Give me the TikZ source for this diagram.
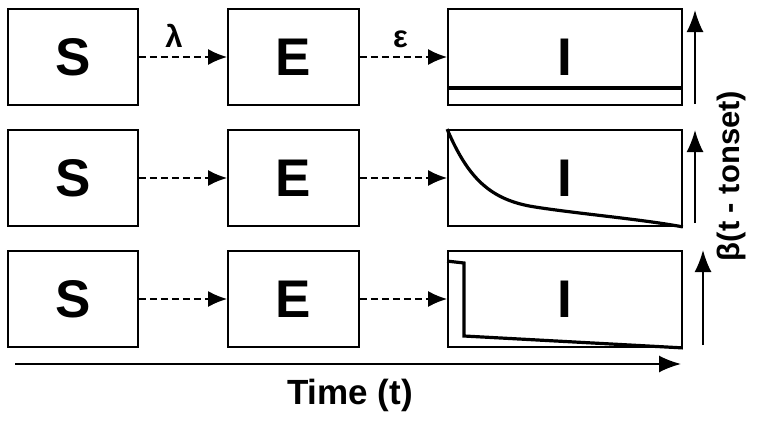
\documentclass[tikz,border=0pt]{standalone}
\usepackage{fontspec}
\setmainfont{Liberation Sans}
\usepackage{tikz}
\usetikzlibrary{positioning,arrows.meta}

\begin{document}
\begin{tikzpicture}[x=1pt,y=-1pt,
        comp/.style={draw=black,line width=1.8pt,fill=white,inner sep=0pt,
            minimum height=96pt,font=\fontsize{53}{53}\selectfont\bfseries},
        scomp/.style={comp,minimum width=130pt},
        ecomp/.style={comp,minimum width=131pt},
        icomp/.style={comp,minimum width=234pt},
        flow/.style={dash pattern=on 7pt off 4pt,line width=1.8pt,-{Latex[length=19pt,width=16pt]}},
        rate/.style={font=\fontsize{31}{31}\selectfont\bfseries},
        axis/.style={line width=1.8pt,-{Latex[length=22pt,width=17pt]}},
        beta/.style={line width=3.2pt,line join=miter}
    ]
    \useasboundingbox (0,0) rectangle (759,423);

    %--- compartments ---
    \node[scomp] (s1) at (73,57) {S};
    \node[ecomp] (e1) at (293.5,57) {E};
    \node[icomp] (i1) at (565,57) {I};

    \node[scomp] (s2) at (73,178) {S};
    \node[ecomp] (e2) at (293.5,178) {E};
    \node[icomp] (i2) at (565,178) {I};

    \node[scomp] (s3) at (73,299) {S};
    \node[ecomp] (e3) at (293.5,299) {E};
    \node[icomp] (i3) at (565,299) {I};

    %--- flows ---
    \draw[flow] (s1) -- node[rate,above=5pt,xshift=-9pt] {λ} (e1);
    \draw[flow] (e1) -- node[rate,above=5pt,xshift=-3pt] {ε} (i1);
    \draw[flow] (s2) -- (e2);
    \draw[flow] (e2) -- (i2);
    \draw[flow] (s3) -- (e3);
    \draw[flow] (e3) -- (i3);

    %--- infectiousness profiles ---
    \draw[beta] ([yshift=-31pt]i1.west) -- ([yshift=-31pt]i1.east);
    \draw[beta] (i2.north west) .. controls (468,178) and (490,200) .. (535,207)
        .. controls (580,214) and (640,219) .. (i2.south east);
    \draw[beta] ([yshift=-11pt]i3.north west) -- (464,263) -- (464,336) -- (i3.south east);

    %--- axes ---
    \coordinate (b1) at (695,104);
    \coordinate (b1t) at (695,10);
    \coordinate (b2) at (695,223);
    \coordinate (b2t) at (695,130);
    \coordinate (b3) at (703,345);
    \coordinate (b3t) at (703,250);
    \draw[axis] (b1) -- (b1t);
    \draw[axis] (b2) -- (b2t);
    \draw[axis] (b3) -- (b3t);
    \node[font=\fontsize{31}{31}\selectfont\bfseries,rotate=90] (blabel) at (731,176) {β(t - tonset)};

    \coordinate (t0) at (15,364);
    \coordinate (t1) at (681,364);
    \draw[axis] (t0) -- (t1);
    \node[font=\fontsize{35}{35}\selectfont\bfseries] (tlabel) at (350,395) {Time (t)};
\end{tikzpicture}
\end{document}
